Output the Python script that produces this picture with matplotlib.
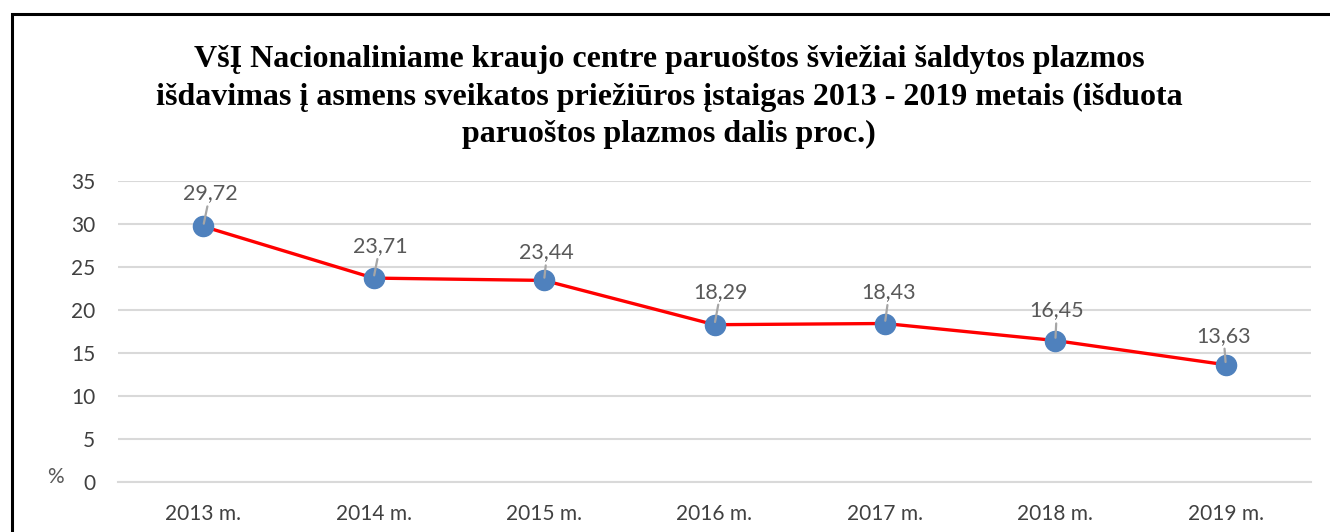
import matplotlib
matplotlib.use("Agg")
import matplotlib.pyplot as plt
from matplotlib.patches import Rectangle

years = ["2013 m.", "2014 m.", "2015 m.", "2016 m.", "2017 m.", "2018 m.", "2019 m."]
values = [29.72, 23.71, 23.44, 18.29, 18.43, 16.45, 13.63]
labels = ["29,72", "23,71", "23,44", "18,29", "18,43", "16,45", "13,63"]
yticks = [0, 5, 10, 15, 20, 25, 30, 35]
title = ("VšĮ Nacionaliniame kraujo centre paruoštos šviežiai šaldytos plazmos\n"
         "išdavimas į asmens sveikatos priežiūros įstaigas 2013 - 2019 metais (išduota\n"
         "paruoštos plazmos dalis proc.)")

W, H = 1330, 532
fig = plt.figure(figsize=(W / 100, H / 100), dpi=100)
ax = fig.add_axes([118 / W, 1 - 482 / H, (1311 - 118) / W, (482 - 181) / H])

x = list(range(len(years)))
ax.plot(x, values, color="#FF0000", lw=2.4, zorder=3)
ax.plot(x, values, "o", ms=14.5, color="#4F81BD", zorder=4)

# label offsets (points): baseline above marker centre
offs = [(5, 19.4), (4.5, 18.7), (2, 15.8), (4.5, 19.4), (3, 18.3), (1, 17.3), (-1.5, 16.6)]
for xi, v, lab, (dx, dy) in zip(x, values, labels, offs):
    ax.annotate(lab, (xi, v), xytext=(dx, dy), textcoords="offset points",
                ha="center", va="baseline", fontsize=15.5, color="#595959",
                family="Lato", zorder=6)
    ax.annotate("", (xi, v), xycoords="data",
                xytext=(dx * 0.6, dy - 5), textcoords="offset points",
                arrowprops=dict(arrowstyle="-", color="#A6A6A6", lw=1.6,
                                shrinkA=0, shrinkB=2), zorder=5)

ax.set_xlim(-0.5, 6.5)
ax.set_ylim(0, 35)
ax.set_yticks(yticks)
ax.set_xticks(x)
ax.set_xticklabels(years)
ax.grid(axis="y", color="#D9D9D9", lw=1.5)
ax.set_axisbelow(True)
for s in ["top", "right", "left"]:
    ax.spines[s].set_visible(False)
ax.spines["bottom"].set_color("#D9D9D9")
ax.spines["bottom"].set_linewidth(1.5)
ax.tick_params(axis="both", length=0, labelsize=15, labelcolor="#404040")
ax.tick_params(axis="y", pad=16.5)
ax.tick_params(axis="x", pad=16)
for t in ax.get_xticklabels() + ax.get_yticklabels():
    t.set_family("Lato")

fig.text(55 / W, 1 - 477 / H, "%", ha="center", va="center", fontsize=15,
         color="#595959", family="Lato")

fig.text(669 / W, 1 - 97 / H, title, ha="center", va="center", fontsize=23,
         fontweight="bold", family="Liberation Serif", linespacing=1.40)

fig.patches.append(Rectangle((12 / W, -0.2), 1.2, 1.2 - 14 / H, transform=fig.transFigure,
                             fill=False, ec="black", lw=2.2, zorder=10))

fig.savefig("out.png", dpi=100)
